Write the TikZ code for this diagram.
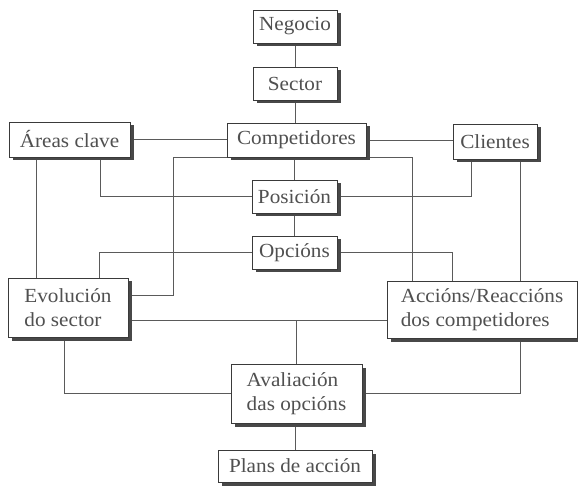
\documentclass[tikz,border=0pt]{standalone}
\usepackage{fontspec}
\setmainfont{Liberation Serif}[FakeStretch=1.06]
\usetikzlibrary{shadows}
\definecolor{ink}{HTML}{505050}
\definecolor{edgecol}{HTML}{3A3A3A}
\definecolor{shade}{HTML}{484848}
\definecolor{linkcol}{HTML}{5A5A5A}
\pgfdeclarelayer{bg}
\pgfsetlayers{bg,main}
\begin{document}
\begin{tikzpicture}[x=1pt,y=-1pt,
  box/.style={draw=edgecol, line width=0.9pt, fill=white, inner sep=0pt, outer sep=0pt,
    text=ink, font=\fontsize{20}{24}\selectfont, align=left,
    drop shadow={shadow xshift=3.5pt, shadow yshift=-3.5pt, fill=shade, opacity=1}},
  link/.style={draw=linkcol, line width=0.9pt}]
\useasboundingbox (0,0) rectangle (578,486);

\node[box, minimum width=84pt, minimum height=33pt] (neg) at (295,26.5) {Negocio};
\node[box, minimum width=84pt, minimum height=33pt] (sec) at (295,83.5) {Sector};
\node[box, minimum width=139pt, minimum height=34pt] (comp) at (296.5,140) {Competidores};
\node[box, minimum width=121pt, minimum height=35pt] (areas) at (69.5,139.5) {Áreas clave};
\node[box, minimum width=84pt, minimum height=35pt] (cli) at (495,141.5) {Clientes};
\node[box, minimum width=85pt, minimum height=33pt] (pos) at (294.5,196.5) {Posición};
\node[box, minimum width=85pt, minimum height=33pt] (opc) at (294.5,252.5) {Opcións};
\node[box, minimum width=120pt, minimum height=59pt] (evo) at (68,307.5) {Evolución\\do sector};
\node[box, minimum width=190pt, minimum height=57pt] (acc) at (482,309.5) {Accións/Reaccións\\dos competidores};
\node[box, minimum width=131pt, minimum height=59pt] (ava) at (296.5,393.5) {Avaliación\\das opcións};
\node[box, minimum width=154pt, minimum height=32pt] (plans) at (295,466) {Plans de acción};

\coordinate (evoR) at ([yshift=-12.5pt]evo.east);
\coordinate (evoS) at ([yshift=12.5pt]evo.east);

\begin{pgfonlayer}{bg}
\draw[link] (neg.south) -- (sec.north);
\draw[link] (sec.south) -- (sec.south |- comp.north);
\draw[link] (comp.south -| pos.north) -- (pos.north);
\draw[link] (pos.south) -- (opc.north);
\draw[link] (areas.east) -- (areas.east -| comp.west);
\draw[link] (comp.east) -- (comp.east -| cli.west);
\draw[link] ([xshift=-33.5pt]areas.south) -- ([xshift=-33.5pt]areas.south |- evo.north);
\draw[link] ([xshift=30.5pt]areas.south) |- (pos.west);
\draw[link] ([xshift=-24pt]cli.south) |- (pos.east);
\draw[link] ([xshift=25pt]cli.south) -- ([xshift=25pt]cli.south |- acc.north);
\draw[link] (comp.south west) -- ++(-54,0) |- (evoS);
\draw[link] (comp.south east) -| ([xshift=-70pt]acc.north);
\draw[link] (opc.west) -| ([xshift=31pt]evo.north);
\draw[link] (opc.east) -| ([xshift=-30pt]acc.north);
\draw[link] (evoR) -- (evoR -| acc.west);
\draw[link] (ava.north) -- (ava.north |- evoR);
\draw[link] ([xshift=-4pt]evo.south) |- (ava.west);
\draw[link] ([xshift=38pt]acc.south) |- (ava.east);
\draw[link] (ava.south -| plans.north) -- (plans.north);
\end{pgfonlayer}
\end{tikzpicture}
\end{document}
